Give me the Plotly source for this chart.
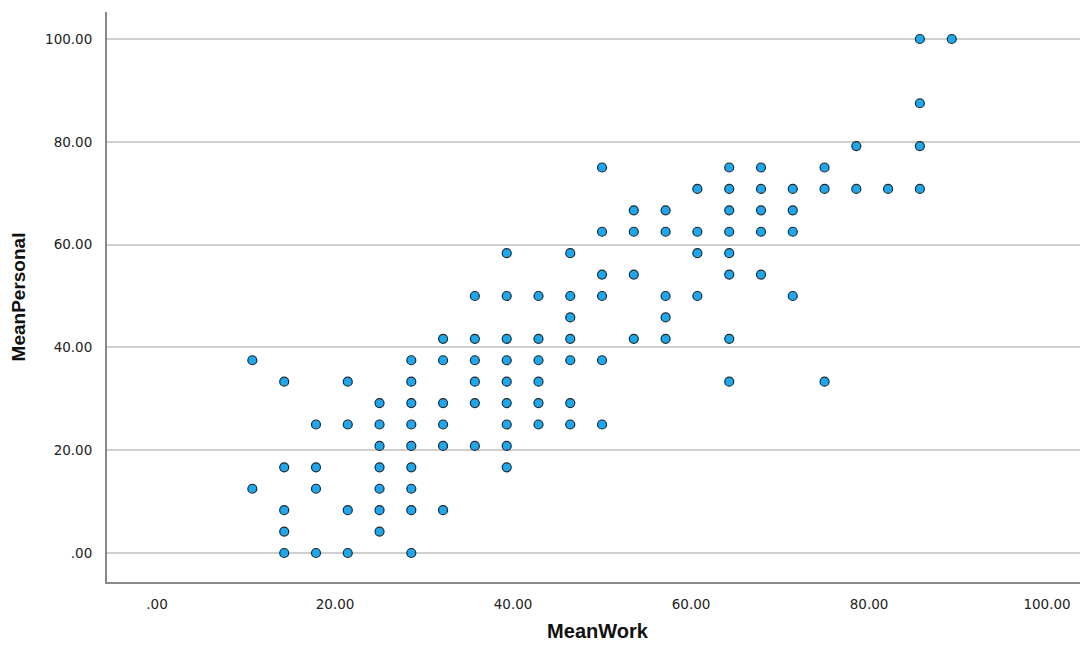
import plotly.graph_objects as go

# Data (MeanWork on x, MeanPersonal on y)
mean_work = (
    [10.71] * 2 + [14.29] * 5 + [17.86] * 4 + [21.43] * 4 + [25.00] * 7 +
    [28.57] * 9 + [32.14] * 6 + [35.71] * 6 + [39.29] * 9 + [42.86] * 6 +
    [46.43] * 7 + [50.00] * 6 + [53.57] * 4 + [57.14] * 5 + [60.71] * 4 +
    [64.29] * 8 + [67.86] * 5 + [71.43] * 4 + [75.00] * 3 + [78.57] * 2 +
    [82.14] * 1 + [85.71] * 4 + [89.29] * 1
)
mean_personal = (
    [37.50, 12.50] +
    [33.33, 16.67, 8.33, 4.17, 0.00] +
    [25.00, 16.67, 12.50, 0.00] +
    [33.33, 25.00, 8.33, 0.00] +
    [29.17, 25.00, 20.83, 16.67, 12.50, 8.33, 4.17] +
    [37.50, 33.33, 29.17, 25.00, 20.83, 16.67, 12.50, 8.33, 0.00] +
    [41.67, 37.50, 29.17, 25.00, 20.83, 8.33] +
    [50.00, 41.67, 37.50, 33.33, 29.17, 20.83] +
    [58.33, 50.00, 41.67, 37.50, 33.33, 29.17, 25.00, 20.83, 16.67] +
    [50.00, 41.67, 37.50, 33.33, 29.17, 25.00] +
    [58.33, 50.00, 45.83, 41.67, 37.50, 29.17, 25.00] +
    [75.00, 62.50, 54.17, 50.00, 37.50, 25.00] +
    [66.67, 62.50, 54.17, 41.67] +
    [66.67, 62.50, 50.00, 45.83, 41.67] +
    [70.83, 62.50, 58.33, 50.00] +
    [75.00, 70.83, 66.67, 62.50, 58.33, 54.17, 41.67, 33.33] +
    [75.00, 70.83, 66.67, 62.50, 54.17] +
    [70.83, 66.67, 62.50, 50.00] +
    [75.00, 70.83, 33.33] +
    [79.17, 70.83] +
    [70.83] +
    [100.00, 87.50, 79.17, 70.83] +
    [100.00]
)

tick_vals = [0, 20, 40, 60, 80, 100]
tick_text = [".00", "20.00", "40.00", "60.00", "80.00", "100.00"]

fig = go.Figure()
fig.add_trace(go.Scatter(
    x=mean_work, y=mean_personal, mode="markers",
    marker=dict(size=9, color="#1ea7ec",
                line=dict(color="#1c2a33", width=1.2)),
    showlegend=False,
))

# The page body adds an 8px offset, so the figure is 8px smaller
fig.update_layout(
    width=1080, height=637,
    margin=dict(l=99, r=0, t=4, b=63),
    paper_bgcolor="white", plot_bgcolor="white",
    font=dict(family="DejaVu Sans", size=13.5, color="#222222"),
)
fig.update_xaxes(
    range=[-5.62, 104.6], tickvals=tick_vals, ticktext=tick_text,
    showgrid=False, zeroline=False,
    showline=True, linecolor="#8a8a8a", linewidth=2,
    ticks="", ticklabelstandoff=9,
    tickfont=dict(family="DejaVu Sans", size=13.5, color="#222222"),
    title=dict(text="MeanWork", standoff=13,
               font=dict(family="Liberation Sans", size=20, color="#111111",
                         weight="bold")),
)
fig.update_yaxes(
    range=[-5.64, 105.25], tickvals=tick_vals, ticktext=tick_text,
    showgrid=True, gridcolor="#cfcfcf", gridwidth=1.5,
    zeroline=False,
    showline=True, linecolor="#8a8a8a", linewidth=2,
    ticks="", ticklabelstandoff=10,
    tickfont=dict(family="DejaVu Sans", size=13.5, color="#222222"),
    title=dict(text="MeanPersonal", standoff=14,
               font=dict(family="Liberation Sans", size=19, color="#111111",
                         weight="bold")),
)

fig.write_html("out.html")
